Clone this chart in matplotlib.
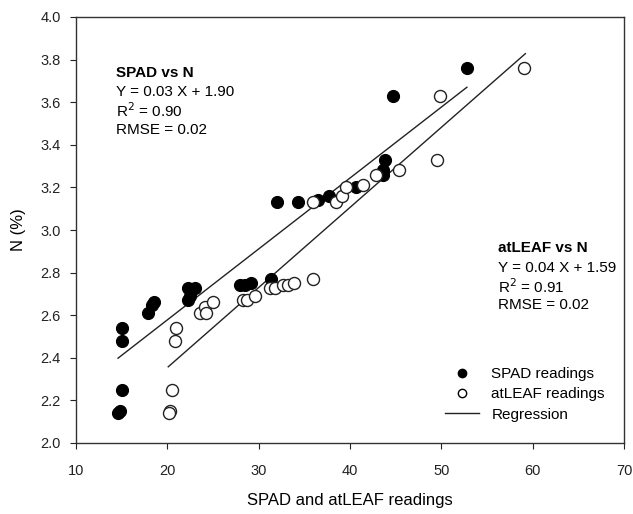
import matplotlib
matplotlib.use("Agg")
import matplotlib.pyplot as plt
import numpy as np
from matplotlib.lines import Line2D

plt.rcParams['font.family'] = ['Liberation Sans', 'DejaVu Sans']

# SPAD readings (filled)
spad_x = [15.0, 15.0, 15.0, 14.8, 14.6, 17.9, 18.3, 18.5, 22.3, 23.0, 22.3, 22.5,
          28.0, 28.5, 29.2, 31.4, 32.0, 34.3, 36.5, 37.7, 40.7, 43.8, 43.6, 43.6,
          44.7, 52.8]
spad_y = [2.54, 2.48, 2.25, 2.15, 2.14, 2.61, 2.65, 2.66, 2.73, 2.73, 2.67, 2.69,
          2.74, 2.74, 2.75, 2.77, 3.13, 3.13, 3.14, 3.16, 3.20, 3.33, 3.28, 3.26,
          3.63, 3.76]

# atLEAF readings (open)
atleaf_x = [21.0, 20.8, 20.5, 20.3, 20.2, 23.6, 24.1, 24.2, 25.0, 28.3, 28.7, 29.6,
            31.2, 31.8, 32.7, 33.2, 33.9, 35.9, 36.0, 38.5, 39.1, 39.6, 41.4, 42.9,
            45.4, 49.5, 49.8, 59.1]
atleaf_y = [2.54, 2.48, 2.25, 2.15, 2.14, 2.61, 2.64, 2.61, 2.66, 2.67, 2.67, 2.69,
            2.73, 2.73, 2.74, 2.74, 2.75, 2.77, 3.13, 3.13, 3.16, 3.20, 3.21, 3.26,
            3.28, 3.33, 3.63, 3.76]

# Regression lines (slope, intercept, x range) as drawn
spad_fit = (0.0333, 1.912, 14.6, 52.8)
atleaf_fit = (0.0376, 1.602, 20.1, 59.2)

x_ticks = [10, 20, 30, 40, 50, 60, 70]
y_ticks = [2.0, 2.2, 2.4, 2.6, 2.8, 3.0, 3.2, 3.4, 3.6, 3.8, 4.0]

fig = plt.figure(figsize=(6.33, 5.14), dpi=100)
ax = fig.add_axes([76/633, 1-443/514, (624-76)/633, (443-17)/514])

for (m, b, x0, x1) in (spad_fit, atleaf_fit):
    xs = np.array([x0, x1])
    ax.plot(xs, m*xs + b, color='#222222', lw=1.0, zorder=2)

ax.scatter(spad_x, spad_y, s=75, c='black', edgecolors='black', linewidths=0.8, zorder=3)
ax.scatter(atleaf_x, atleaf_y, s=75, c='white', edgecolors='#222222', linewidths=1.0, zorder=3)

ax.set_xlim(10, 70)
ax.set_ylim(2.0, 4.0)
ax.set_xticks(x_ticks)
ax.set_yticks(y_ticks)
ax.set_yticklabels([f"{v:.1f}" for v in y_ticks])
ax.tick_params(direction='out', length=4, width=0.8, labelsize=10.5, colors='#222222')
ax.tick_params(axis='x', pad=11)
ax.tick_params(axis='y', pad=7)
for s in ax.spines.values():
    s.set_color('#333333')
    s.set_linewidth(1.0)

ax.set_xlabel('SPAD and atLEAF readings', fontsize=12, labelpad=11)
ax.set_ylabel('N (%)', fontsize=12, labelpad=10)

fs = 11
ax.text(14.35, 3.738, 'SPAD vs N', fontsize=fs, fontweight='bold', va='center')
ax.text(14.35, 3.648, 'Y = 0.03 X + 1.90', fontsize=fs, va='center')
ax.text(14.35, 3.559, r'R$^2$ = 0.90', fontsize=fs, va='center')
ax.text(14.35, 3.470, 'RMSE = 0.02', fontsize=fs, va='center')

ax.text(56.2, 2.916, 'atLEAF vs N', fontsize=fs, fontweight='bold', va='center')
ax.text(56.2, 2.822, 'Y = 0.04 X + 1.59', fontsize=fs, va='center')
ax.text(56.2, 2.732, r'R$^2$ = 0.91', fontsize=fs, va='center')
ax.text(56.2, 2.650, 'RMSE = 0.02', fontsize=fs, va='center')

handles = [
    Line2D([], [], marker='o', color='none', markerfacecolor='black', markeredgecolor='black', markersize=6),
    Line2D([], [], marker='o', color='none', markerfacecolor='white', markeredgecolor='black', markersize=6),
    Line2D([], [], color='#222222', lw=1.0),
]
ax.legend(handles, ['SPAD readings', 'atLEAF readings', 'Regression'],
          loc='lower right', bbox_to_anchor=(0.99, 0.018), frameon=False, fontsize=fs,
          handlelength=2.2, handletextpad=0.8, labelspacing=0.4)

fig.savefig('out.png', dpi=100)
